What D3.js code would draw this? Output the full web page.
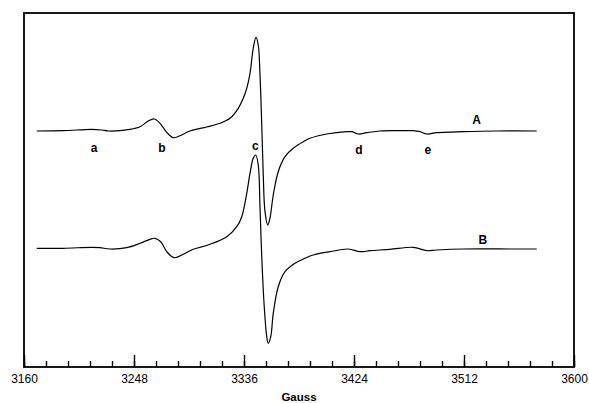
<!DOCTYPE html>
<html>
<head>
<meta charset="utf-8">
<script src="https://cdn.jsdelivr.net/npm/d3@7"></script>
<style>
  body { margin: 0; background: #fff; }
  svg { display: block; font-family: "Liberation Sans", Arial, sans-serif; }
</style>
</head>
<body>
<div id="chart"></div>
<script>
// spectrum A: [field (G), signal (a.u.)]
const spectrumA = [
  [3170.2, 236], [3191.4, 236.3], [3214.2, 237.7], [3222.2, 237], [3227.4, 236],
  [3244.8, 237.7], [3252.8, 240.3], [3259.4, 246], [3264.2, 248], [3268.8, 243.7],
  [3274.2, 234.7], [3279.4, 229.3], [3284.8, 231.3], [3292.8, 236], [3306.2, 240],
  [3316.8, 243.7], [3324.8, 248.7], [3331.4, 258.7], [3335.4, 268.7], [3338.2, 278.7],
  [3340.8, 293.7], [3343.4, 318.7], [3345.6, 329.7], [3347.4, 322], [3348.8, 292],
  [3350.2, 242], [3351.4, 192], [3352.8, 155.3], [3355, 142], [3356.8, 149],
  [3359.4, 172], [3363.4, 195.3], [3368.8, 210.3], [3375.4, 218.7], [3383.4, 225.3],
  [3388.8, 228.7], [3402.2, 233], [3418.2, 235.3], [3422.2, 235.3], [3427.4, 233],
  [3434.2, 234.3], [3444.8, 236], [3458.2, 236.3], [3471.4, 236.3], [3476.8, 235.3],
  [3482.2, 233], [3490.2, 234.3], [3511.4, 235.3], [3538.2, 236], [3570.2, 236]
];

// spectrum B
const spectrumB = [
  [3170.2, 118.7], [3191.4, 118.7], [3214.2, 119.7], [3220.8, 119.3], [3228.8, 118],
  [3242.2, 119.3], [3252.8, 123.7], [3260.8, 127.7], [3264.8, 128.7], [3269.4, 125.3],
  [3274.2, 115.3], [3280, 109.3], [3286.2, 112], [3295.4, 117.7], [3308.8, 122.7],
  [3322.2, 130.3], [3330.2, 140.3], [3334.2, 150.3], [3338.2, 173.7], [3340.8, 193.7],
  [3343.4, 208.7], [3345.4, 212], [3347.4, 202], [3348.8, 160.3], [3350.2, 110.3],
  [3352.2, 60.3], [3354.2, 30.3], [3355.4, 23.7], [3357.4, 30.3], [3359.4, 53.7],
  [3363.4, 80.3], [3368.8, 95.3], [3376.8, 103.7], [3384.8, 108.7], [3391.4, 112],
  [3404.8, 115.3], [3419.4, 118], [3428.8, 115.3], [3436.8, 116.3], [3452.8, 117.7],
  [3471.4, 119.7], [3482.2, 116.3], [3490.2, 117], [3511.4, 118], [3551.4, 118],
  [3570.2, 118]
];

// peak / trace labels: [text, field, signal]
const peakLabels = [
  ["a", 3216, 219], ["b", 3270.4, 219], ["c", 3345, 221],
  ["d", 3428, 217], ["e", 3483, 217], ["A", 3522, 247], ["B", 3527, 127]
];

const majorTicks = [3160, 3248, 3336, 3424, 3512, 3600];
const minorTicks = d3.range(0, 26).map(i => 3160 + i * 17.6);

const width = 589, height = 403;
const margin = { top: 13, right: 15, bottom: 36, left: 24 };

const svg = d3.select("#chart").append("svg")
  .attr("width", width)
  .attr("height", height);

const x = d3.scaleLinear()
  .domain([3160, 3600])
  .range([margin.left, width - margin.right]);

const y = d3.scaleLinear()
  .domain([0, 354])
  .range([height - margin.bottom, margin.top]);

// frame
svg.append("rect")
  .attr("x", margin.left)
  .attr("y", margin.top)
  .attr("width", x.range()[1] - x.range()[0])
  .attr("height", y.range()[0] - y.range()[1])
  .attr("fill", "none")
  .attr("stroke", "#000")
  .attr("stroke-width", 1.8);

// minor ticks (inward)
svg.append("g")
  .attr("transform", `translate(0,${y.range()[0]})`)
  .call(d3.axisTop(x).tickValues(minorTicks).tickSize(6).tickFormat(""))
  .call(g => g.select(".domain").remove())
  .call(g => g.selectAll("line").attr("stroke-width", 1.4));

// major ticks + labels
const xAxis = svg.append("g")
  .attr("transform", `translate(0,${y.range()[0]})`)
  .call(d3.axisTop(x).tickValues(majorTicks).tickSize(12).tickFormat(d3.format("d")));
xAxis.select(".domain").remove();
xAxis.selectAll("line").attr("stroke-width", 1.4);
xAxis.selectAll("text")
  .attr("y", 16)
  .attr("dy", 0)
  .attr("font-size", 12)
  .attr("font-family", "'Liberation Sans', Arial, sans-serif");

svg.append("text")
  .attr("x", (x.range()[0] + x.range()[1]) / 2)
  .attr("y", 401)
  .attr("text-anchor", "middle")
  .attr("font-size", 11.5)
  .attr("font-weight", "bold")
  .text("Gauss");

const line = d3.line()
  .x(d => x(d[0]))
  .y(d => y(d[1]))
  .curve(d3.curveCatmullRom.alpha(0.5));

[spectrumA, spectrumB].forEach(s => {
  svg.append("path")
    .datum(s)
    .attr("d", line)
    .attr("fill", "none")
    .attr("stroke", "#000")
    .attr("stroke-width", 1.2);
});

svg.selectAll("text.peak")
  .data(peakLabels)
  .join("text")
    .attr("class", "peak")
    .attr("x", d => x(d[1]))
    .attr("y", d => y(d[2]))
    .attr("dy", "0.35em")
    .attr("text-anchor", "middle")
    .attr("font-size", 12)
    .attr("font-weight", "bold")
    .text(d => d[0]);
</script>
</body>
</html>
